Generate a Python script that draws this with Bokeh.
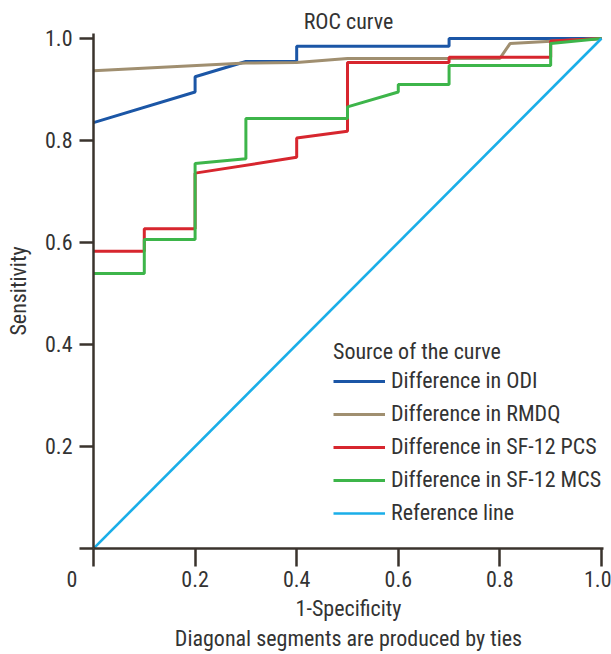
from bokeh.plotting import figure
from bokeh.models import Range1d, Legend, LegendItem, Title
from bokeh.embed import file_html
from bokeh.resources import INLINE

# ---- data ----
odi_x = [0.0, 0.2, 0.2, 0.3, 0.4, 0.4, 0.7, 0.7, 1.0]
odi_y = [0.835, 0.895, 0.925, 0.955, 0.955, 0.985, 0.985, 1.0, 1.0]

rmdq_x = [0.0, 0.3, 0.4, 0.5, 0.8, 0.82, 1.0]
rmdq_y = [0.937, 0.952, 0.953, 0.961, 0.961, 0.99, 1.0]

pcs_x = [0.0, 0.1, 0.1, 0.2, 0.2, 0.4, 0.4, 0.5, 0.5, 0.7, 0.7, 0.9, 0.9, 1.0]
pcs_y = [0.583, 0.583, 0.627, 0.627, 0.736, 0.767, 0.805, 0.818, 0.953, 0.953, 0.963, 0.963, 0.995, 1.0]

mcs_x = [0.0, 0.1, 0.1, 0.2, 0.2, 0.3, 0.3, 0.5, 0.5, 0.6, 0.6, 0.7, 0.7, 0.9, 0.9, 1.0]
mcs_y = [0.539, 0.539, 0.606, 0.606, 0.755, 0.764, 0.843, 0.843, 0.866, 0.895, 0.91, 0.91, 0.947, 0.947, 0.99, 1.0]

ref_x = [0.0, 1.0]
ref_y = [0.0, 1.0]

ticks = [0.0, 0.2, 0.4, 0.6, 0.8, 1.0]
x_tick_labels = ["0\u2007\u2007\u2007\u2007", "0.2", "0.4", "0.6", "0.8", "1.0"]
y_tick_labels = ["", "0.2", "0.4", "0.6", "0.8", "1.0"]

series_names = ["Difference in ODI", "Difference in RMDQ", "Difference in SF-12 PCS",
                "Difference in SF-12 MCS", "Reference line"]
colors = ["#1b56a6", "#a08f70", "#d7262e", "#3db54a", "#1aaee8"]

FONT = "Roboto Condensed, Archivo Narrow"
FS = "22px"
TXT = "#333333"
AX = "#3a332d"

p = figure(width=611, height=654, output_backend="svg", toolbar_location=None,
           x_range=Range1d(0, 1.004), y_range=Range1d(0, 1.0098),
           min_border_left=93, min_border_right=8, min_border_top=33, min_border_bottom=106)
p.outline_line_color = None
p.xgrid.visible = False
p.ygrid.visible = False

p.title.text = "ROC curve"
p.title.align = "center"
p.title.text_font = FONT
p.title.text_font_size = FS
p.title.text_font_style = "normal"
p.title.text_color = TXT
p.title.standoff = 0

xs = [odi_x, rmdq_x, pcs_x, mcs_x, ref_x]
ys = [odi_y, rmdq_y, pcs_y, mcs_y, ref_y]
renderers = []
for x, y, c in zip(xs, ys, colors):
    r = p.line(x, y, line_color=c, line_width=3 if c != colors[4] else 2.6)
    renderers.append(r)

for ax, labs in ((p.xaxis[0], x_tick_labels), (p.yaxis[0], y_tick_labels)):
    ax.ticker = ticks
    ax.major_label_overrides = {t: l for t, l in zip(ticks, labs)}
    ax.axis_line_color = AX
    ax.axis_line_width = 2.5
    ax.major_tick_line_color = AX
    ax.major_tick_line_width = 2.5
    ax.major_tick_in = 0
    ax.minor_tick_line_color = None
    ax.major_label_text_font = FONT
    ax.major_label_text_font_size = FS
    ax.major_label_text_color = TXT
    ax.axis_label_text_font = FONT
    ax.axis_label_text_font_size = FS
    ax.axis_label_text_font_style = "normal"
    ax.axis_label_text_color = TXT

p.xaxis.major_tick_out = 18
p.yaxis.major_tick_out = 14
p.xaxis.major_label_standoff = 0
p.yaxis.major_label_standoff = 7
p.xaxis.axis_label = "1-Specificity"
p.yaxis.axis_label = "Sensitivity"
p.xaxis.axis_label_standoff = 1
p.yaxis.axis_label_standoff = 11

p.add_layout(Title(text="Diagonal segments are produced by ties", align="center",
                   text_font=FONT, text_font_size=FS, text_font_style="normal",
                   text_color=TXT, standoff=0), "below")

legend = Legend(items=[LegendItem(label=n, renderers=[r]) for n, r in zip(series_names, renderers)],
                location=(240, 23), title="Source of the curve")
legend.title_text_font = FONT
legend.title_text_font_size = FS
legend.title_text_font_style = "normal"
legend.title_text_color = TXT
legend.title_standoff = 4
legend.label_text_font = FONT
legend.label_text_font_size = FS
legend.label_text_color = TXT
legend.glyph_width = 52
legend.glyph_height = 24
legend.label_height = 24
legend.spacing = 8
legend.padding = 0
legend.margin = 0
legend.label_standoff = 6
legend.border_line_color = None
legend.background_fill_alpha = 0
p.add_layout(legend, "center")

open("out.html", "w").write(file_html(p, INLINE))
